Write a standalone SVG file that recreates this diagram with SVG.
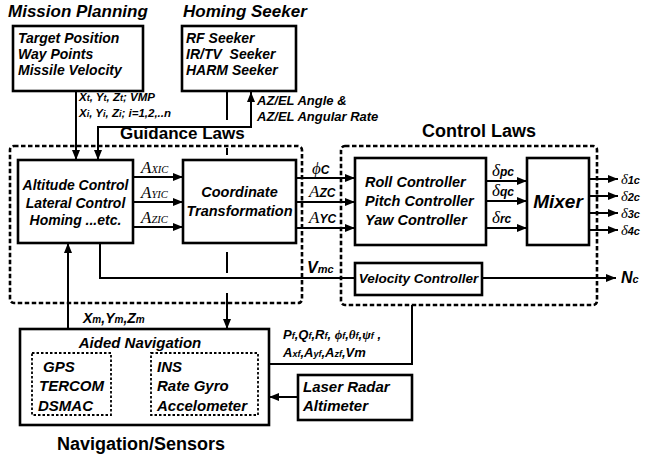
<svg xmlns="http://www.w3.org/2000/svg" width="645" height="461" viewBox="0 0 645 461">
<style>
.t{font-family:"Liberation Sans",Arial,sans-serif;font-weight:bold;font-style:italic;fill:#000}
.u{font-family:"Liberation Sans",Arial,sans-serif;font-weight:bold;fill:#000}
.g{font-family:"Liberation Serif","Times New Roman",serif;font-style:italic;fill:#000}
.box{fill:#fff;stroke:#000;stroke-width:2.6}
.dash{fill:none;stroke:#000;stroke-width:2.6;stroke-dasharray:4.5 2.5}
.dot{fill:none;stroke:#000;stroke-width:1.8;stroke-dasharray:2.5 2}
.ln{fill:none;stroke:#000;stroke-width:2}
.pre{white-space:pre}
</style>
<defs>
<marker id="ah" viewBox="0 0 10 8" refX="10" refY="4" markerWidth="10" markerHeight="8" markerUnits="userSpaceOnUse" orient="auto-start-reverse"><path d="M0,0 L10,4 L0,8 z" fill="#000"/></marker>
</defs>
<rect width="645" height="461" fill="#fff"/>

<g id="guidance-laws">
<rect class="dash" x="10" y="146" width="292" height="157" rx="4"/>
<text class="u" x="120" y="139" font-size="17">Guidance Laws</text>
</g>
<g id="control-laws">
<rect class="dash" x="341" y="146" width="256" height="159" rx="4"/>
<text class="u" x="422" y="137" font-size="18">Control Laws</text>
</g>

<g id="connectors">
<path class="ln" d="M76,91 V160" marker-end="url(#ah)"/>
<path class="ln" d="M251,92 V127 H98 V160" marker-start="url(#ah)" marker-end="url(#ah)"/>
<path class="ln" d="M227,92 V120"/>
<path class="ln" d="M227,148 V155"/>
<path class="ln" d="M227,252 V273"/>
<path class="ln" d="M227,293 V329" marker-end="url(#ah)"/>
<path class="ln" d="M68,329 V243" marker-end="url(#ah)"/>
<path class="ln" d="M133,177 H183" marker-end="url(#ah)"/>
<path class="ln" d="M133,202 H183" marker-end="url(#ah)"/>
<path class="ln" d="M133,227 H183" marker-end="url(#ah)"/>
<path class="ln" d="M296,178 H355" marker-end="url(#ah)"/>
<path class="ln" d="M296,202 H355" marker-end="url(#ah)"/>
<path class="ln" d="M296,228 H355" marker-end="url(#ah)"/>
<path class="ln" d="M486,181 H527" marker-end="url(#ah)"/>
<path class="ln" d="M486,201 H527" marker-end="url(#ah)"/>
<path class="ln" d="M486,228 H527" marker-end="url(#ah)"/>
<path class="ln" d="M589,179 H618" marker-end="url(#ah)"/>
<path class="ln" d="M589,196 H618" marker-end="url(#ah)"/>
<path class="ln" d="M589,213 H618" marker-end="url(#ah)"/>
<path class="ln" d="M589,230 H618" marker-end="url(#ah)"/>
<path class="ln" d="M100,243 V278 H355"/>
<path class="ln" d="M482,278 H616" marker-end="url(#ah)"/>
<path class="ln" d="M269,364 H412 V305"/>
<path class="ln" d="M298,397 H269" marker-end="url(#ah)"/>
<path class="dot" d="M111,386 H151" marker-end="url(#ah)"/>
</g>

<g id="labels">
<text class="t" x="79" y="101" font-size="11.5">X<tspan font-size="9">t</tspan>, Y<tspan font-size="9">t</tspan>, Z<tspan font-size="9">t</tspan>; VMP</text>
<text class="t" x="79" y="117" font-size="11.5">X<tspan font-size="9">i</tspan>, Y<tspan font-size="9">i</tspan>, Z<tspan font-size="9">i</tspan>; i=1,2,..n</text>
<text class="t" x="257" y="105" font-size="13">AZ/EL Angle &amp;</text>
<text class="t" x="257" y="121" font-size="13">AZ/EL Angular Rate</text>
<text class="g" x="141" y="173" font-size="17">A<tspan font-size="10.5">XIC</tspan></text>
<text class="g" x="141" y="198" font-size="17">A<tspan font-size="10.5">YIC</tspan></text>
<text class="g" x="141" y="223" font-size="17">A<tspan font-size="10.5">ZIC</tspan></text>
<text class="g" x="312" y="174" font-size="17">ϕ<tspan class="u" font-size="12">C</tspan></text>
<text class="g" x="309" y="197" font-size="17">A<tspan class="u" font-size="12">ZC</tspan></text>
<text class="g" x="309" y="223" font-size="17">A<tspan class="u" font-size="12">YC</tspan></text>
<text class="g" x="492" y="176" font-size="17">δ<tspan class="u" font-size="12">pc</tspan></text>
<text class="g" x="492" y="196" font-size="17">δ<tspan class="u" font-size="12">qc</tspan></text>
<text class="g" x="492" y="223" font-size="17">δ<tspan class="u" font-size="12">rc</tspan></text>
<text class="g" x="621" y="184" font-size="14.5">δ<tspan class="t" font-size="11">1c</tspan></text>
<text class="g" x="621" y="201" font-size="14.5">δ<tspan class="t" font-size="11">2c</tspan></text>
<text class="g" x="621" y="218" font-size="14.5">δ<tspan class="t" font-size="11">3c</tspan></text>
<text class="g" x="621" y="235" font-size="14.5">δ<tspan class="t" font-size="11">4c</tspan></text>
<text class="t" x="307" y="273" font-size="16">V<tspan font-size="11">mc</tspan></text>
<text class="t" x="621" y="283" font-size="16">N<tspan font-size="11">c</tspan></text>
<text class="t" x="83" y="323" font-size="14">X<tspan font-size="10">m</tspan>,Y<tspan font-size="10">m</tspan>,Z<tspan font-size="10">m</tspan></text>
<text class="t" x="283" y="339" font-size="13">P<tspan font-size="9">f</tspan>,Q<tspan font-size="9">f</tspan>,R<tspan font-size="9">f</tspan>, <tspan class="g" font-size="13">ϕ</tspan><tspan font-size="9">f</tspan>,<tspan class="g" font-size="13">θ</tspan><tspan font-size="9">f</tspan>,<tspan class="g" font-size="13">ψ</tspan><tspan font-size="9">f</tspan> ,</text>
<text class="t" x="283" y="357" font-size="13">A<tspan font-size="9">xf</tspan>,A<tspan font-size="9">yf</tspan>,A<tspan font-size="9">zf</tspan>,Vm</text>
</g>

<g id="mission-planning">
<text class="t" x="8" y="17" font-size="17">Mission Planning</text>
<rect class="box" x="13" y="26" width="130" height="65"/>
<text class="t" x="18" y="43" font-size="14">Target Position</text>
<text class="t" x="18" y="59" font-size="14">Way Points</text>
<text class="t" x="18" y="75" font-size="14">Missile Velocity</text>
</g>

<g id="homing-seeker">
<text class="t" x="183" y="17" font-size="17">Homing Seeker</text>
<rect class="box" x="182" y="26" width="114" height="65"/>
<text class="t" x="186" y="43" font-size="14">RF Seeker</text>
<text class="t pre" x="186" y="59" font-size="14">IR/TV  Seeker</text>
<text class="t" x="186" y="75" font-size="14">HARM Seeker</text>
</g>

<g id="altitude-control">
<rect class="box" x="18" y="160" width="115" height="83"/>
<text class="t" x="75.5" y="190" font-size="14" text-anchor="middle">Altitude Control</text>
<text class="t" x="75.5" y="208" font-size="14" text-anchor="middle">Lateral Control</text>
<text class="t" x="75.5" y="225" font-size="14" text-anchor="middle">Homing ...etc.</text>
</g>

<g id="coordinate-transformation">
<rect class="box" x="183" y="160" width="113" height="83"/>
<text class="t" x="239.5" y="197" font-size="14.5" text-anchor="middle">Coordinate</text>
<text class="t" x="239.5" y="216" font-size="14.5" text-anchor="middle">Transformation</text>
</g>

<g id="roll-pitch-yaw">
<rect class="box" x="355" y="158" width="131" height="87"/>
<text class="t" x="365" y="187" font-size="14.5">Roll Controller</text>
<text class="t" x="365" y="206" font-size="14.5">Pitch Controller</text>
<text class="t" x="365" y="225" font-size="14.5">Yaw Controller</text>
</g>

<g id="mixer">
<rect class="box" x="527" y="158" width="62" height="87"/>
<text class="t" x="558" y="208" font-size="19" text-anchor="middle">Mixer</text>
</g>

<g id="velocity-controller">
<rect class="box" x="355" y="263" width="127" height="32"/>
<text class="t" x="418.5" y="283" font-size="13.5" text-anchor="middle">Velocity Controller</text>
</g>

<g id="aided-navigation">
<rect class="box" x="20" y="329" width="249" height="96" stroke-width="3"/>
<text class="t" x="140" y="348" font-size="15" text-anchor="middle">Aided Navigation</text>
<rect class="dot" x="32" y="353" width="79" height="62"/>
<text class="t" x="43" y="372" font-size="15">GPS</text>
<text class="t" x="39" y="391" font-size="15">TERCOM</text>
<text class="t" x="38" y="411" font-size="15">DSMAC</text>
<rect class="dot" x="151" y="353" width="107" height="62"/>
<text class="t" x="157" y="372" font-size="15">INS</text>
<text class="t" x="157" y="391" font-size="15">Rate Gyro</text>
<text class="t" x="157" y="411" font-size="15">Accelometer</text>
</g>

<g id="laser-radar">
<rect class="box" x="298" y="375" width="114" height="45"/>
<text class="t" x="303" y="392" font-size="15">Laser Radar</text>
<text class="t" x="303" y="411" font-size="15">Altimeter</text>
</g>

<g id="navigation-sensors">
<text class="u" x="57" y="450" font-size="18">Navigation/Sensors</text>
</g>
</svg>
